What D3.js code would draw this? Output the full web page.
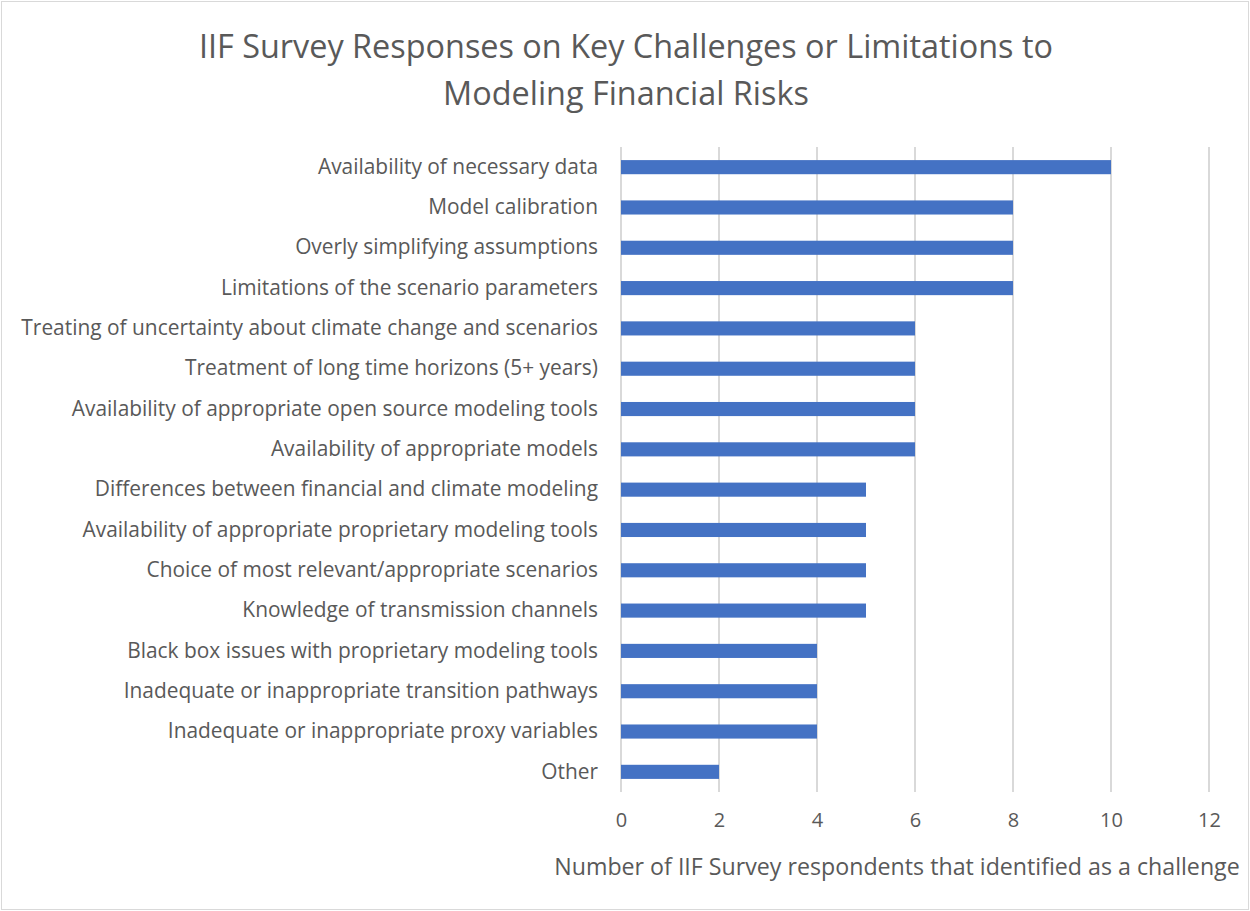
<!DOCTYPE html>
<html>
<head>
  <title>IIF Survey Responses</title>
  <script src="https://d3js.org/d3.v7.min.js"></script>
  <style>
    body { margin: 0; background: #fff; }
    text { font-family: "Open Sans", sans-serif; fill: #595959; }
  </style>
</head>
<body>
<div id="chart"></div>
<script>
  const categories = [
    "Availability of necessary data",
    "Model calibration",
    "Overly simplifying assumptions",
    "Limitations of the scenario parameters",
    "Treating of uncertainty about climate change and scenarios",
    "Treatment of long time horizons (5+ years)",
    "Availability of appropriate open source modeling tools",
    "Availability of appropriate models",
    "Differences between financial and climate modeling",
    "Availability of appropriate proprietary modeling tools",
    "Choice of most relevant/appropriate scenarios",
    "Knowledge of transmission channels",
    "Black box issues with proprietary modeling tools",
    "Inadequate or inappropriate transition pathways",
    "Inadequate or inappropriate proxy variables",
    "Other"
  ];
  const respondents = [10, 8, 8, 8, 6, 6, 6, 6, 5, 5, 5, 5, 4, 4, 4, 2];
  const xTicks = [0, 2, 4, 6, 8, 10, 12];
  const titleLines = [
    "IIF Survey Responses on Key Challenges or Limitations to",
    "Modeling Financial Risks"
  ];
  const xAxisTitle = "Number of IIF Survey respondents that identified as a challenge";

  const width = 1250;
  const height = 911;
  const margin = {top: 147, right: 41, bottom: 119, left: 621};

  const svg = d3.select("#chart")
          .append("svg")
          .attr("width", width)
          .attr("height", height);

  svg.append("rect")
          .attr("x", 1.5).attr("y", 1.5)
          .attr("width", width - 3).attr("height", height - 3)
          .attr("fill", "#fff")
          .attr("stroke", "#d9d9d9");

  const x = d3.scaleLinear()
          .domain([0, 12])
          .range([margin.left, width - margin.right]);

  const y = d3.scaleBand()
          .domain(categories)
          .range([margin.top, height - margin.bottom])
          .paddingInner(0.65)
          .paddingOuter(0.325);

  // gridlines
  svg.append("g")
          .selectAll("line")
          .data(xTicks)
          .join("line")
          .attr("x1", d => x(d)).attr("x2", d => x(d))
          .attr("y1", margin.top).attr("y2", height - margin.bottom)
          .attr("stroke", "#d9d9d9")
          .attr("stroke-width", 2);

  // x axis labels
  const xAxis = svg.append("g")
          .attr("transform", `translate(0,${height - margin.bottom})`)
          .call(d3.axisBottom(x).tickValues(xTicks).tickSize(0).tickPadding(21));
  xAxis.select(".domain").remove();
  xAxis.selectAll("text")
          .attr("font-family", null)
          .style("font-size", "20px")
          .attr("fill", null);

  // y axis labels
  const yAxis = svg.append("g")
          .attr("transform", `translate(${margin.left},0)`)
          .call(d3.axisLeft(y).tickSize(0).tickPadding(23));
  yAxis.select(".domain").remove();
  yAxis.selectAll("text")
          .attr("font-family", null)
          .style("font-size", "20.9px")
          .attr("fill", null);

  // bars
  svg.selectAll(".bar")
          .data(respondents)
          .join("rect")
          .attr("class", "bar")
          .attr("x", x(0))
          .attr("y", (d, i) => y(categories[i]))
          .attr("width", d => x(d) - x(0))
          .attr("height", y.bandwidth())
          .attr("fill", "#4472c4");

  // title
  svg.append("text")
          .attr("text-anchor", "middle")
          .style("font-size", "32.4px")
          .selectAll("tspan")
          .data(titleLines)
          .join("tspan")
          .attr("x", 626)
          .attr("y", (d, i) => 58 + i * 47)
          .text(d => d);

  // axis title
  svg.append("text")
          .attr("x", 897)
          .attr("y", 875)
          .attr("text-anchor", "middle")
          .style("font-size", "23.2px")
          .text(xAxisTitle);
</script>
</body>
</html>
